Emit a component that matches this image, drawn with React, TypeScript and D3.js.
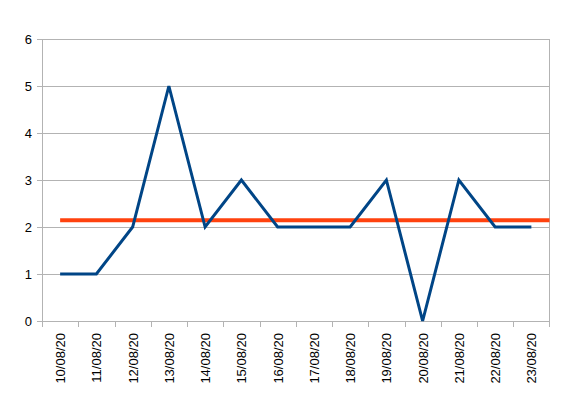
import React, { useEffect, useRef } from "react";
import * as d3 from "d3";

const dates = [
  "10/08/20", "11/08/20", "12/08/20", "13/08/20", "14/08/20", "15/08/20", "16/08/20",
  "17/08/20", "18/08/20", "19/08/20", "20/08/20", "21/08/20", "22/08/20", "23/08/20",
];
const counts = [1, 1, 2, 5, 2, 3, 2, 2, 2, 3, 0, 3, 2, 2];
const yTicks = [0, 1, 2, 3, 4, 5, 6];

const App = () => {
  const ref = useRef<SVGSVGElement>(null);

  useEffect(() => {
    const width = 563;
    const height = 399;
    const m = { top: 39, right: 13.5, bottom: 78, left: 42 };

    const svg = d3.select(ref.current);
    svg.selectAll("*").remove();

    const x = d3.scaleBand().domain(dates).range([m.left, width - m.right]);
    const y = d3.scaleLinear().domain([0, 6]).range([height - m.bottom, m.top]);
    const cx = (d: string) => (x(d) as number) + x.bandwidth() / 2;

    const mean = d3.mean(counts) as number;

    // grid
    svg
      .append("g")
      .selectAll("line")
      .data(yTicks)
      .join("line")
      .attr("x1", m.left - 5)
      .attr("x2", width - m.right)
      .attr("y1", (d) => Math.round(y(d)) + 0.5)
      .attr("y2", (d) => Math.round(y(d)) + 0.5)
      .attr("stroke", "#b3b3b3");

    // y axis line + right border
    svg
      .append("line")
      .attr("x1", m.left + 0.5)
      .attr("x2", m.left + 0.5)
      .attr("y1", m.top)
      .attr("y2", height - m.bottom + 6)
      .attr("stroke", "#b3b3b3");
    svg
      .append("line")
      .attr("x1", width - m.right)
      .attr("x2", width - m.right)
      .attr("y1", m.top)
      .attr("y2", height - m.bottom + 6)
      .attr("stroke", "#b3b3b3");

    // x ticks at band boundaries
    svg
      .append("g")
      .selectAll("line")
      .data(dates.slice(1))
      .join("line")
      .attr("x1", (d) => Math.round(x(d) as number) + 0.5)
      .attr("x2", (d) => Math.round(x(d) as number) + 0.5)
      .attr("y1", height - m.bottom)
      .attr("y2", height - m.bottom + 6)
      .attr("stroke", "#b3b3b3");

    // y labels
    svg
      .append("g")
      .selectAll("text")
      .data(yTicks)
      .join("text")
      .attr("x", 32)
      .attr("y", (d) => y(d))
      .attr("dy", "0.35em")
      .attr("text-anchor", "end")
      .attr("font-family", "Liberation Sans, Arial, sans-serif")
      .attr("font-size", 13)
      .text((d) => d);

    // x labels
    svg
      .append("g")
      .selectAll("text")
      .data(dates)
      .join("text")
      .attr("transform", (d) => `translate(${cx(d) + 5},${height - m.bottom + 12}) rotate(-90)`)
      .attr("text-anchor", "end")
      .attr("font-family", "Liberation Sans, Arial, sans-serif")
      .attr("font-size", 13)
      .text((d) => d);

    // mean line
    svg
      .append("line")
      .attr("x1", cx(dates[0]))
      .attr("x2", width - m.right)
      .attr("y1", y(mean))
      .attr("y2", y(mean))
      .attr("stroke", "#ff420e")
      .attr("stroke-width", 4);

    // series
    const line = d3
      .line<number>()
      .x((_, i) => cx(dates[i]))
      .y((d) => y(d));
    svg
      .append("path")
      .datum(counts)
      .attr("d", line)
      .attr("fill", "none")
      .attr("stroke", "#004586")
      .attr("stroke-width", 3)
      .attr("stroke-linejoin", "miter");
  }, []);

  return <svg ref={ref} width={563} height={399} style={{ position: "absolute", left: 0, top: 0 }}></svg>;
};

export default App;
